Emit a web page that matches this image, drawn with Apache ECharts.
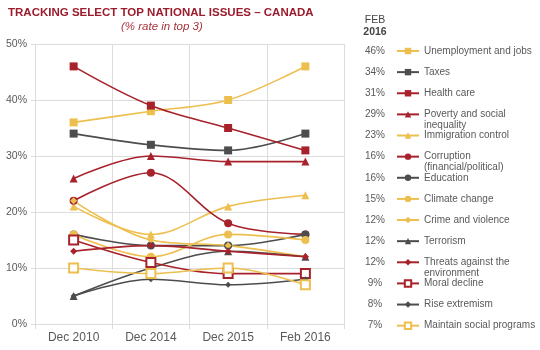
<!DOCTYPE html>
<html>
<head>
<meta charset="utf-8">
<script src="https://cdn.jsdelivr.net/npm/echarts@6/dist/echarts.min.js"></script>
<style>
  html, body { margin: 0; padding: 0; background: #fff; }
  #chart { width: 540px; height: 350px; }
</style>
</head>
<body>
<div id="chart"></div>
<script>
// periods on the x axis
const periods = ['Dec 2010', 'Dec 2014', 'Dec 2015', 'Feb 2016'];

// % rate in top 3, per issue
const unemployment = [36, 38, 40, 46];
const taxes = [34, 32, 31, 34];
const healthCare = [46, 39, 35, 31];
const poverty = [26, 30, 29, 29];
const immigration = [21, 16, 21, 23];
const corruption = [22, 27, 18, 16];
const education = [16, 14, 14, 16];
const climate = [16, 12, 16, 15];
const crime = [22, 15, 14, 12];
const terrorism = [5, 10, 13, 12];
const environment = [13, 14, 13, 12];
const moralDecline = [15, 11, 9, 9];
const extremism = [5, 8, 7, 8];
const socialPrograms = [10, 9, 10, 7];

const yTicks = [0, 10, 20, 30, 40, 50];

const YELLOW = '#edbf4e';
const GRAY = '#4d4d4d';
const RED = '#a8222b';

const issues = [
  { name: 'Unemployment and jobs', data: unemployment, color: YELLOW, symbol: 'rect', size: 8 },
  { name: 'Taxes', data: taxes, color: GRAY, symbol: 'rect', size: 8 },
  { name: 'Health care', data: healthCare, color: RED, symbol: 'rect', size: 8 },
  { name: 'Poverty and social inequality', label: 'Poverty and social\ninequality', data: poverty, color: RED, symbol: 'triangle', size: 8 },
  { name: 'Immigration control', data: immigration, color: YELLOW, symbol: 'triangle', size: 8 },
  { name: 'Corruption (financial/political)', label: 'Corruption\n(financial/political)', data: corruption, color: RED, symbol: 'circle', size: 8 },
  { name: 'Education', data: education, color: GRAY, symbol: 'circle', size: 8 },
  { name: 'Climate change', data: climate, color: YELLOW, symbol: 'circle', size: 8 },
  { name: 'Crime and violence', data: crime, color: YELLOW, symbol: 'diamond', size: 7 },
  { name: 'Terrorism', data: terrorism, color: GRAY, symbol: 'triangle', size: 8 },
  { name: 'Threats against the environment', label: 'Threats against the\nenvironment', data: environment, color: RED, symbol: 'diamond', size: 7 },
  { name: 'Moral decline', data: moralDecline, color: RED, symbol: 'rect', size: 9, hollow: true },
  { name: 'Rise extremism', data: extremism, color: GRAY, symbol: 'diamond', size: 6 },
  { name: 'Maintain social programs', data: socialPrograms, color: YELLOW, symbol: 'rect', size: 9, hollow: true }
];

const FONT = '"Liberation Sans", Arial, sans-serif';
const TEXT = '#595959';
const GRID_LINE = '#dcdcdc';

const chart = echarts.init(document.getElementById('chart'));

// legend rows: one legend per issue so the rows keep a fixed step
const rowY = i => 51 + i * 21.13;

const legends = issues.map((s, i) => {
  const twoLine = !!s.label;
  return {
    data: [s.name],
    left: 396,
    top: twoLine ? rowY(i) - 16.5 : rowY(i) - 5.5,
    padding: 0,
    itemWidth: 22,
    itemHeight: 8,
    itemGap: 0,
    selectedMode: false,
    // empty first line keeps the real first line level with the icon
    formatter: () => (twoLine ? '\n' + s.label : s.name),
    textStyle: {
      color: TEXT,
      fontFamily: FONT,
      fontSize: 10,
      lineHeight: 11
    }
  };
});

const percentTexts = issues.map((s, i) => ({
  type: 'text',
  x: 375,
  y: rowY(i),
  style: {
    text: s.data[s.data.length - 1] + '%',
    fill: TEXT,
    font: '10px ' + FONT,
    align: 'center',
    verticalAlign: 'middle'
  }
}));

const option = {
  animation: false,
  title: [
    {
      text: 'TRACKING SELECT TOP NATIONAL ISSUES \u2013 CANADA',
      left: 8,
      top: 7,
      padding: 0,
      textStyle: { color: '#9b1c2c', fontFamily: FONT, fontSize: 11.5, fontWeight: 'bold' }
    },
    {
      text: '(% rate in top 3)',
      left: 121,
      top: 21,
      padding: 0,
      textStyle: { color: '#a8343c', fontFamily: FONT, fontSize: 11.5, fontStyle: 'italic', fontWeight: 'normal' }
    }
  ],
  legend: legends,
  graphic: [
    {
      type: 'text', x: 375, y: 20.5,
      style: { text: 'FEB', fill: '#444', font: '10.5px ' + FONT, align: 'center', verticalAlign: 'middle' }
    },
    {
      type: 'text', x: 375, y: 32.5,
      style: { text: '2016', fill: '#444', font: 'bold 10.5px ' + FONT, align: 'center', verticalAlign: 'middle' }
    }
  ].concat(percentTexts),
  grid: { left: 35, right: 196, top: 44, bottom: 26, containLabel: false },
  xAxis: {
    type: 'category',
    data: periods,
    boundaryGap: true,
    axisLine: { show: true, lineStyle: { color: GRID_LINE } },
    axisTick: { show: true, length: 5, lineStyle: { color: GRID_LINE } },
    axisLabel: { color: TEXT, fontFamily: FONT, fontSize: 12, margin: 8 },
    splitLine: { show: true, lineStyle: { color: GRID_LINE } }
  },
  yAxis: {
    type: 'value',
    min: yTicks[0],
    max: yTicks[yTicks.length - 1],
    interval: yTicks[1] - yTicks[0],
    axisLine: { show: false },
    axisTick: { show: true, length: 4, lineStyle: { color: GRID_LINE } },
    axisLabel: { color: TEXT, fontFamily: FONT, fontSize: 10.5, formatter: '{value}%', margin: 8 },
    splitLine: { show: true, lineStyle: { color: GRID_LINE } }
  },
  series: issues.map(s => ({
    name: s.name,
    type: 'line',
    data: s.data,
    smooth: 0.35,
    symbol: s.symbol,
    symbolSize: s.size,
    showAllSymbol: true,
    lineStyle: { color: s.color, width: 1.6 },
    itemStyle: s.hollow
      ? { color: '#fff', borderColor: s.color, borderWidth: 2 }
      : { color: s.color, borderColor: s.color, borderWidth: 0 },
    emphasis: { disabled: true }
  }))
};

chart.setOption(option);
</script>
</body>
</html>
